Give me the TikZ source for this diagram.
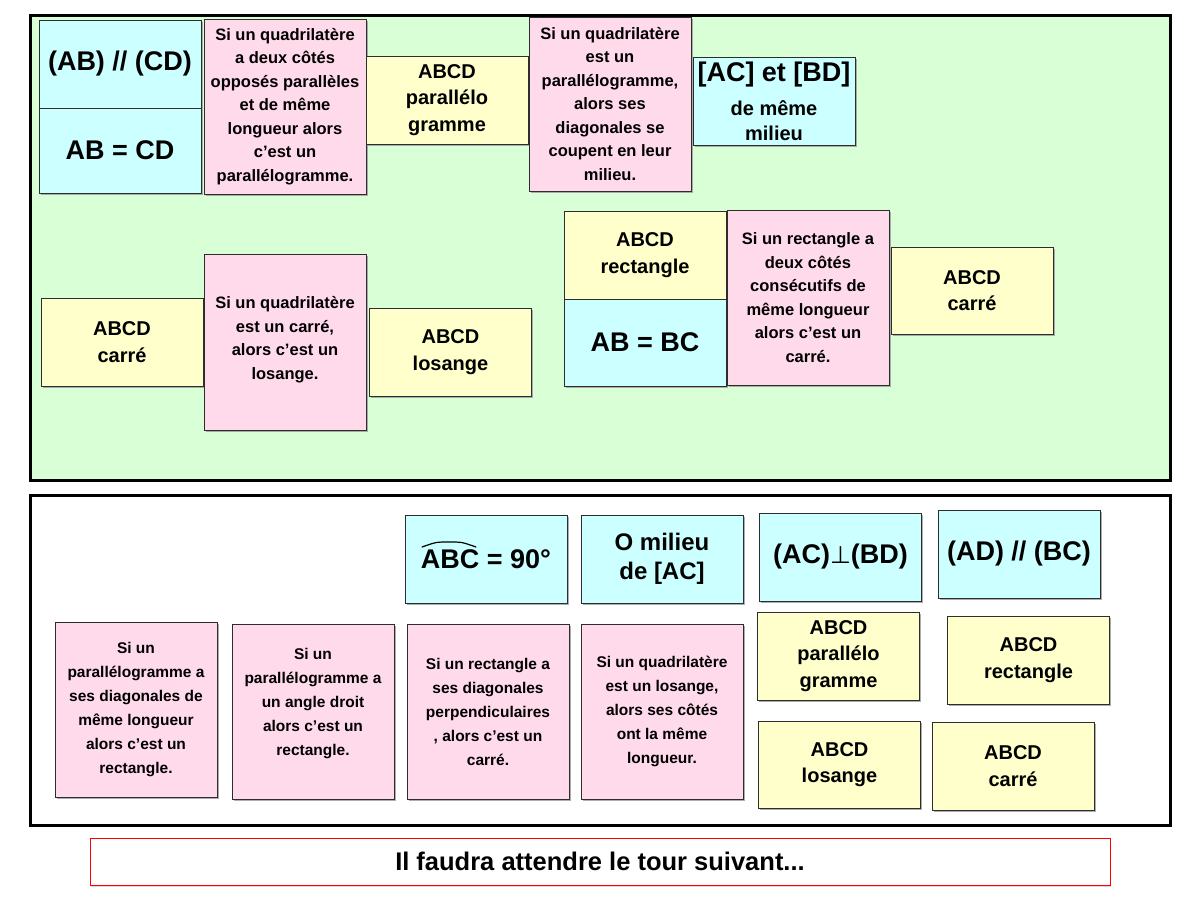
\documentclass[tikz,border=0pt]{standalone}
\usepackage{fontspec}
\setmainfont{Liberation Sans}
\newfontfamily\dejavu{DejaVu Sans}
\usetikzlibrary{shadows,calc}
\definecolor{panelgreen}{RGB}{217,255,214}
\definecolor{boxcyan}{RGB}{204,255,255}
\definecolor{boxyellow}{RGB}{255,255,204}
\definecolor{boxpink}{RGB}{255,218,235}
\definecolor{edge}{RGB}{45,45,45}
\tikzset{
  card/.style={draw=edge, line width=1pt, minimum width=162, minimum height=88,
    inner sep=2pt, align=center,
    drop shadow={shadow xshift=1.5pt, shadow yshift=-1.5pt, fill=black!40, opacity=0.8}},
  cyanbox/.style={card, fill=boxcyan, font=\bfseries\fontsize{27}{31}\selectfont},
  yellowbox/.style={card, fill=boxyellow, font=\bfseries\fontsize{20}{26.5}\selectfont},
  pinkbox/.style={card, fill=boxpink, minimum height=175, font=\bfseries\fontsize{16.5}{23.5}\selectfont},
  pinklow/.style={card, fill=boxpink, minimum height=175, font=\bfseries\fontsize{15.5}{24}\selectfont},
  panel/.style={draw=black, line width=3pt, minimum width=1140},
}
\begin{document}
\begin{tikzpicture}[x=1pt, y=-1pt]
\useasboundingbox (0,0) rectangle (1200,900);
\fill[white] (0,0) rectangle (1200,900);

% panels
\node[panel, fill=panelgreen, minimum height=465] (top) at (600,247.5) {};
\node[panel, fill=white, minimum height=330] (bottom) at (600,660) {};

% top panel
\node[cyanbox] (c1) at (120,64) {(AB) // (CD)};
\node[cyanbox, minimum height=85] (c2) at (120,150.5) {AB = CD};
\node[pinkbox] (p1) at (285,106.5) {Si un quadrilatère\\a deux côtés\\opposés parallèles\\et de même\\longueur alors\\c’est un\\parallélogramme.};
\node[yellowbox] (y1) at (447,100) {ABCD\\parallélo\\gramme};
\node[pinkbox, minimum height=174] (p2) at (610,104) {Si un quadrilatère\\est un\\parallélogramme,\\alors ses\\diagonales se\\coupent en leur\\milieu.};
\node[cyanbox, font=\bfseries\fontsize{20}{25}\selectfont] (c3) at (774,101) {{\fontsize{27}{31}\selectfont [AC] et [BD]}\\[9pt]de même\\milieu};

\node[yellowbox] (y2) at (122,342) {ABCD\\carré};
\node[pinkbox, minimum height=176] (p3) at (285,342) {Si un quadrilatère\\est un carré,\\alors c’est un\\losange.\\[-15pt]};
\node[yellowbox] (y3) at (450.5,352) {ABCD\\losange};

\node[yellowbox] (y4) at (645,255) {ABCD\\rectangle};
\node[cyanbox, minimum height=87] (c4) at (645,342.5) {AB = BC};
\node[pinkbox] (p4) at (808,297.5) {Si un rectangle a\\deux côtés\\consécutifs de\\même longueur\\alors c’est un\\carré.};
\node[yellowbox, minimum height=87] (y5) at (972,290.5) {ABCD\\carré};

% bottom panel
\node[cyanbox] (c5) at (486,559) {ABC = 90°};
\draw[line width=1.2pt, line cap=round] ($(c5.center)+(-64,-12)$) .. controls ($(c5.center)+(-50,-17)$) .. ($(c5.center)+(-37,-17)$) .. controls ($(c5.center)+(-24,-17)$) .. ($(c5.center)+(-10,-12)$);
\node[cyanbox, font=\bfseries\fontsize{24}{29}\selectfont] (c6) at (662,559) {O milieu\\de [AC]};
\node[cyanbox] (c7) at (840.5,557) {(AC){\dejavu\mdseries\fontsize{24}{24}\selectfont ⊥}(BD)};
\node[cyanbox] (c8) at (1019,554) {(AD) // (BC)};

\node[yellowbox] (y6) at (838.5,656) {ABCD\\parallélo\\gramme};
\node[yellowbox] (y7) at (1028.5,660) {ABCD\\rectangle};
\node[yellowbox, minimum height=87] (y8) at (839.5,764.5) {ABCD\\losange};
\node[yellowbox] (y9) at (1013,766) {ABCD\\carré};

\node[pinklow] (p5) at (136,709.5) {Si un\\parallélogramme a\\ses diagonales de\\même longueur\\alors c’est un\\rectangle.};
\node[pinklow] (p6) at (313,712) {Si un\\parallélogramme a\\un angle droit\\alors c’est un\\rectangle.\\[-4pt]};
\node[pinklow] (p7) at (488,711.5) {Si un rectangle a\\ses diagonales\\perpendiculaires\\, alors c’est un\\carré.};
\node[pinklow] (p8) at (662,711.5) {Si un quadrilatère\\est un losange,\\alors ses côtés\\ont la même\\longueur.};

% message bar
\node[draw=red, line width=1pt, fill=white, minimum width=1020, minimum height=47,
  drop shadow={shadow xshift=1pt, shadow yshift=-1.5pt, fill=black!30},
  font=\bfseries\fontsize{25.5}{28}\selectfont] (msg) at (600,861.5)
  {Il faudra attendre le tour suivant...};
\end{tikzpicture}
\end{document}
